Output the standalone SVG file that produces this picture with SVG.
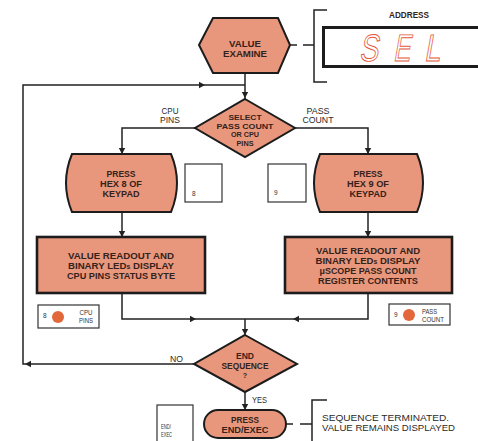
<svg xmlns="http://www.w3.org/2000/svg" width="478" height="441" viewBox="0 0 478 441">
  <style>
    .shape { fill: #e8977d; stroke: #1c1c1c; stroke-width: 2; }
    .rect { fill: #e8977d; stroke: #1c1c1c; stroke-width: 2.6; }
    .line { fill: none; stroke: #222; stroke-width: 1.5; }
    .box { fill: #fff; stroke: #333; stroke-width: 1.2; }
    .t { font-family: "Liberation Sans Narrow", "Liberation Sans", Arial, sans-serif; font-stretch: condensed; font-weight: bold; fill: #35221a; text-anchor: middle; }
    .lb { font-family: "Liberation Sans Narrow", "Liberation Sans", Arial, sans-serif; font-stretch: condensed; fill: #2a2a2a; }
    .sm { font-family: "Liberation Sans Narrow", "Liberation Sans", Arial, sans-serif; fill: #333; font-size: 6.5px; }
    .led { fill: #e2673a; }
    .seg { font-family: "Liberation Sans Narrow", "Liberation Sans", sans-serif; font-size: 38px; fill: none; stroke: #e5583c; stroke-width: 1; }
  </style>
  <defs>
    <path id="ah" d="M0,0 L-6,-3.2 L-6,3.2 Z" fill="#222"/>
  </defs>

  <!-- connectors -->
  <g id="connectors">
    <!-- loop back to top -->
    <path class="line" d="M245,364 H23 V85 H245"/>
    <use href="#ah" transform="translate(205,85)"/>
    <use href="#ah" transform="translate(25,364) rotate(180)"/>
    <!-- top down to select -->
    <path class="line" d="M245,73 V99"/>
    <use href="#ah" transform="translate(245,98) rotate(90)"/>
    <!-- branches -->
    <path class="line" d="M195,128 H122 V154"/>
    <use href="#ah" transform="translate(122,154) rotate(90)"/>
    <path class="line" d="M295,128 H368 V154"/>
    <use href="#ah" transform="translate(368,154) rotate(90)"/>
    <!-- press to readout -->
    <path class="line" d="M122,212 V237"/>
    <use href="#ah" transform="translate(122,237) rotate(90)"/>
    <path class="line" d="M368,212 V237"/>
    <use href="#ah" transform="translate(368,237) rotate(90)"/>
    <!-- merge -->
    <path class="line" d="M122,293 V319 H368 V293"/>
    <use href="#ah" transform="translate(196,319)"/>
    <use href="#ah" transform="translate(293,319) rotate(180)"/>
    <path class="line" d="M245,319 V335"/>
    <use href="#ah" transform="translate(245,335) rotate(90)"/>
    <!-- yes -->
    <path class="line" d="M245,392 V410"/>
    <use href="#ah" transform="translate(245,410) rotate(90)"/>
    <!-- display callouts -->
    <path class="line" d="M290,45 H297 M303,45 H314 M327,10 H314 V82 H327"/>
    <path class="line" d="M286,424 H293 M300,424 H312 M327,400 H312 V441"/>
  </g>

  <!-- address display -->
  <g id="address-display">
    <text class="t" x="409" y="18.3" font-size="8.5" textLength="40" lengthAdjust="spacingAndGlyphs">ADDRESS</text>
    <rect x="323.5" y="27.5" width="160" height="39" fill="#fff" stroke="#1c1c1c" stroke-width="3"/>
    <g transform="translate(0,61) skewX(-10)">
      <text class="seg" x="359" y="0" textLength="19" lengthAdjust="spacingAndGlyphs">S</text>
      <text class="seg" x="393" y="0" textLength="17" lengthAdjust="spacingAndGlyphs">E</text>
      <text class="seg" x="424" y="0" textLength="16" lengthAdjust="spacingAndGlyphs">L</text>
    </g>
  </g>

  <!-- value examine -->
  <g id="value-examine">
    <polygon class="shape" points="199,45 213,18 278,18 290,45 278,73 213,73"/>
    <text class="t" x="245" y="46.5" font-size="9.5" textLength="32" lengthAdjust="spacingAndGlyphs">VALUE</text>
    <text class="t" x="245" y="56.5" font-size="9.5" textLength="44" lengthAdjust="spacingAndGlyphs">EXAMINE</text>
  </g>

  <!-- select decision -->
  <g id="select">
    <polygon class="shape" points="245,99 295,128 245,157 195,128"/>
    <text class="t" x="245" y="120" font-size="7.8" textLength="33" lengthAdjust="spacingAndGlyphs">SELECT</text>
    <text class="t" x="245" y="128.7" font-size="7.8" textLength="57" lengthAdjust="spacingAndGlyphs">PASS COUNT</text>
    <text class="t" x="245" y="137.4" font-size="7.8" textLength="28" lengthAdjust="spacingAndGlyphs">OR CPU</text>
    <text class="t" x="245" y="146.1" font-size="7.8" textLength="17" lengthAdjust="spacingAndGlyphs">PINS</text>
  </g>

  <!-- branch labels -->
  <g id="branch-labels">
    <text class="lb" x="170" y="114" font-size="8.4" text-anchor="middle" textLength="17" lengthAdjust="spacingAndGlyphs">CPU</text>
    <text class="lb" x="170" y="123.3" font-size="8.4" text-anchor="middle" textLength="20" lengthAdjust="spacingAndGlyphs">PINS</text>
    <text class="lb" x="318" y="114" font-size="8.4" text-anchor="middle" textLength="23" lengthAdjust="spacingAndGlyphs">PASS</text>
    <text class="lb" x="318" y="123.3" font-size="8.4" text-anchor="middle" textLength="31" lengthAdjust="spacingAndGlyphs">COUNT</text>
  </g>

  <!-- press hex 8 -->
  <g id="press-8">
    <path class="shape" d="M72,154 H171 Q183,183 171,212 H72 Q60,183 72,154 Z"/>
    <text class="t" x="121" y="177.3" font-size="9" textLength="29" lengthAdjust="spacingAndGlyphs">PRESS</text>
    <text class="t" x="121" y="187.3" font-size="9" textLength="42" lengthAdjust="spacingAndGlyphs">HEX 8 OF</text>
    <text class="t" x="121" y="197.3" font-size="9" textLength="37" lengthAdjust="spacingAndGlyphs">KEYPAD</text>
  </g>
  <g id="key-8">
    <rect class="box" x="185" y="164" width="37" height="38"/>
    <text class="sm" x="192" y="195.5" font-size="5.5">8</text>
  </g>

  <!-- press hex 9 -->
  <g id="press-9">
    <path class="shape" d="M320,154 H417 Q429,183 417,212 H320 Q308,183 320,154 Z"/>
    <text class="t" x="368" y="177.3" font-size="9" textLength="29" lengthAdjust="spacingAndGlyphs">PRESS</text>
    <text class="t" x="368" y="187.3" font-size="9" textLength="42" lengthAdjust="spacingAndGlyphs">HEX 9 OF</text>
    <text class="t" x="368" y="197.3" font-size="9" textLength="37" lengthAdjust="spacingAndGlyphs">KEYPAD</text>
  </g>
  <g id="key-9">
    <rect class="box" x="268" y="164" width="38" height="38"/>
    <text class="sm" x="274" y="195" font-size="5.5">9</text>
  </g>

  <!-- cpu pins readout -->
  <g id="readout-cpu">
    <rect class="rect" x="37" y="237" width="168" height="56"/>
    <text class="t" x="121" y="259.3" font-size="9" textLength="106" lengthAdjust="spacingAndGlyphs">VALUE READOUT AND</text>
    <text class="t" x="121" y="269.3" font-size="9" textLength="106" lengthAdjust="spacingAndGlyphs">BINARY LED<tspan font-size="6.5">s</tspan> DISPLAY</text>
    <text class="t" x="121" y="279.3" font-size="9" textLength="108" lengthAdjust="spacingAndGlyphs">CPU PINS STATUS BYTE</text>
  </g>

  <!-- pass count readout -->
  <g id="readout-pass">
    <rect class="rect" x="285" y="237" width="167" height="56"/>
    <text class="t" x="368" y="254.3" font-size="9" textLength="104" lengthAdjust="spacingAndGlyphs">VALUE READOUT AND</text>
    <text class="t" x="368" y="264.3" font-size="9" textLength="105" lengthAdjust="spacingAndGlyphs">BINARY LED<tspan font-size="6.5">s</tspan> DISPLAY</text>
    <text class="t" x="368" y="274.3" font-size="9" textLength="97" lengthAdjust="spacingAndGlyphs">μSCOPE PASS COUNT</text>
    <text class="t" x="368" y="284.3" font-size="9" textLength="100" lengthAdjust="spacingAndGlyphs">REGISTER CONTENTS</text>
  </g>

  <!-- led indicators -->
  <g id="led-cpu">
    <rect class="box" x="38" y="305" width="61" height="23"/>
    <text class="sm" x="43" y="318" font-size="5.5">8</text>
    <circle class="led" cx="58" cy="317" r="6"/>
    <text class="sm" x="86" y="315" text-anchor="middle" textLength="13" lengthAdjust="spacingAndGlyphs">CPU</text>
    <text class="sm" x="86" y="323" text-anchor="middle" textLength="14" lengthAdjust="spacingAndGlyphs">PINS</text>
  </g>
  <g id="led-pass">
    <rect class="box" x="389" y="304" width="61" height="21"/>
    <text class="sm" x="394" y="317.3" font-size="5.5">9</text>
    <circle class="led" cx="409" cy="315" r="6"/>
    <text class="sm" x="422" y="314" textLength="15" lengthAdjust="spacingAndGlyphs">PASS</text>
    <text class="sm" x="422" y="322.3" textLength="22" lengthAdjust="spacingAndGlyphs">COUNT</text>
  </g>

  <!-- end sequence decision -->
  <g id="end-sequence">
    <polygon class="shape" points="245,335 297,364 245,392 194,364"/>
    <text class="t" x="245" y="359" font-size="8.8" textLength="18" lengthAdjust="spacingAndGlyphs">END</text>
    <text class="t" x="245" y="369" font-size="8.8" textLength="47" lengthAdjust="spacingAndGlyphs">SEQUENCE</text>
    <text class="t" x="245" y="377.5" font-size="7.2">?</text>
    <text class="lb" x="170" y="361.7" font-size="9" textLength="13" lengthAdjust="spacingAndGlyphs">NO</text>
    <text class="lb" x="252" y="403.3" font-size="9" textLength="15" lengthAdjust="spacingAndGlyphs">YES</text>
  </g>

  <!-- press end/exec -->
  <g id="press-end">
    <rect class="shape" x="204" y="410" width="82" height="28" rx="14"/>
    <text class="t" x="245" y="422.5" font-size="9" textLength="28" lengthAdjust="spacingAndGlyphs">PRESS</text>
    <text class="t" x="245" y="432.5" font-size="9" textLength="47" lengthAdjust="spacingAndGlyphs">END/EXEC</text>
  </g>
  <g id="key-end">
    <rect class="box" x="157" y="405" width="36" height="40"/>
    <text class="sm" x="161" y="429" textLength="10" lengthAdjust="spacingAndGlyphs">END/</text>
    <text class="sm" x="161" y="436.5" textLength="11" lengthAdjust="spacingAndGlyphs">EXEC</text>
  </g>

  <!-- final note -->
  <g id="note">
    <text class="lb" x="322" y="421.3" font-size="8.4" textLength="127" lengthAdjust="spacingAndGlyphs">SEQUENCE TERMINATED.</text>
    <text class="lb" x="322" y="430.7" font-size="8.4" textLength="133" lengthAdjust="spacingAndGlyphs">VALUE REMAINS DISPLAYED</text>
  </g>
</svg>
